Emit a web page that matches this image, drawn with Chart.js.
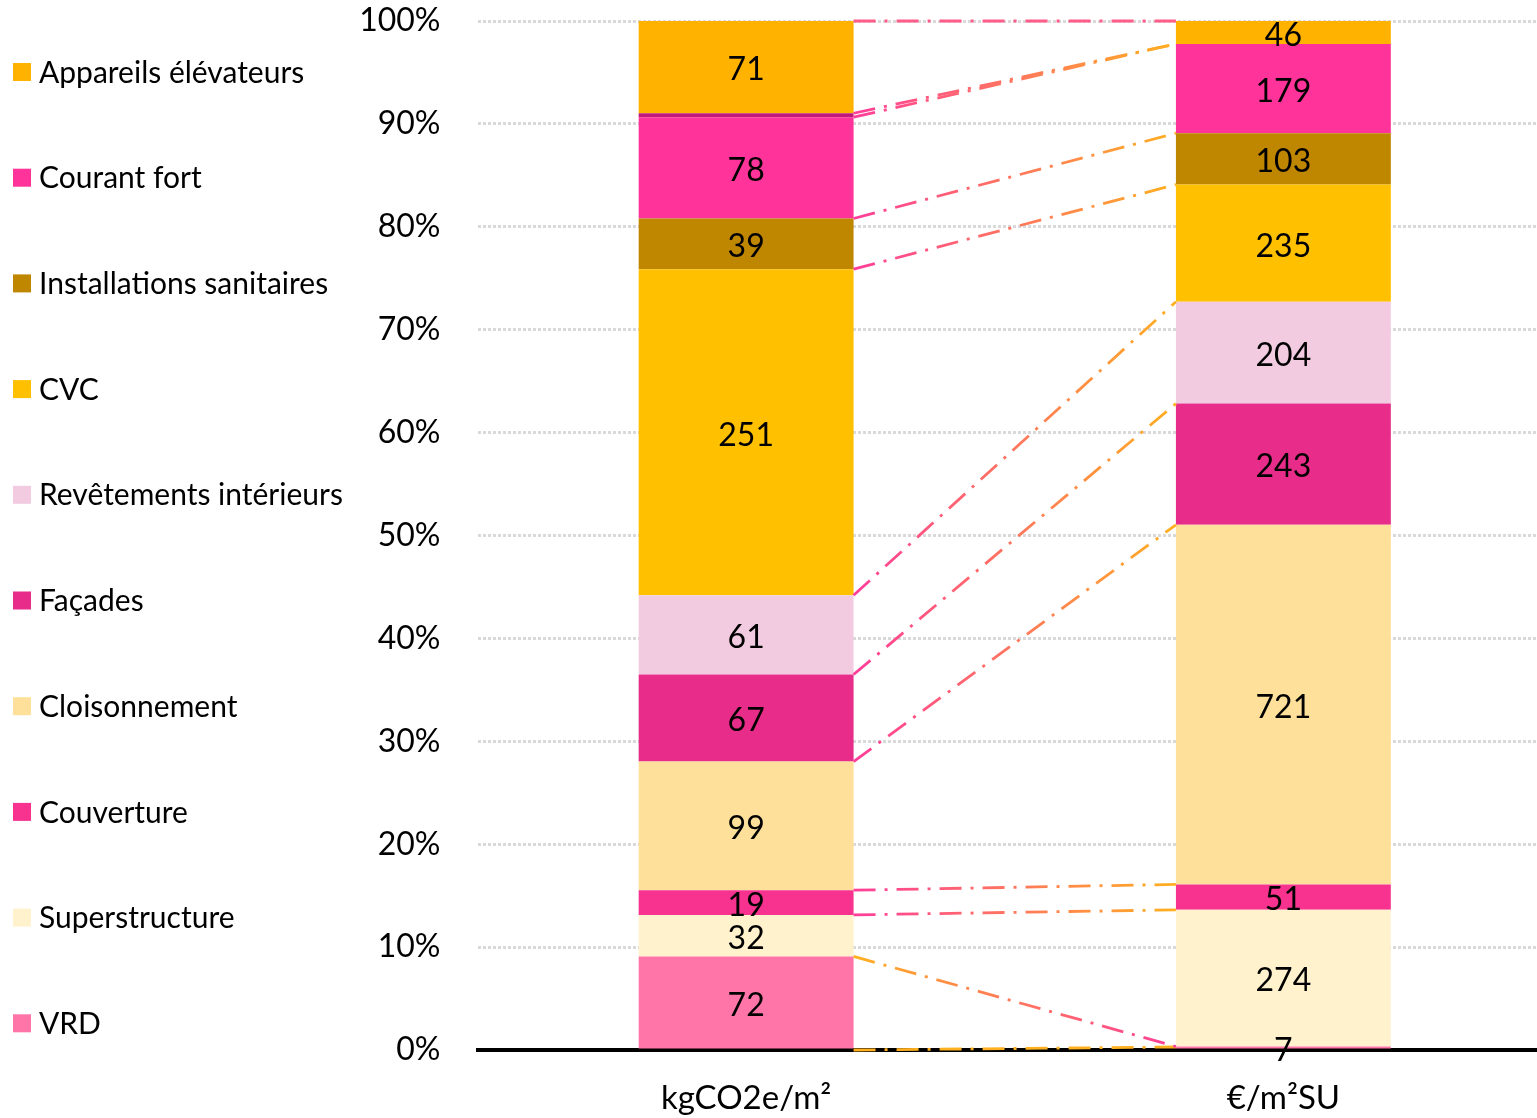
<!DOCTYPE html>
<html lang="fr">
<head>
<meta charset="utf-8">
<title>Répartition par lot</title>
<script src="https://cdn.jsdelivr.net/npm/chart.js@4.4.1/dist/chart.umd.min.js"></script>
<style>
  html, body { margin: 0; padding: 0; background: #fff; overflow: hidden; }
  #cadre { position: relative; width: 1552px; height: 1118px; }
</style>
</head>
<body>
<div id="cadre"><canvas id="graphique" width="1552" height="1118"></canvas></div>
<script>
// Catégories de l'axe X
const categories = ['kgCO2e/m²', '€/m²SU'];

// Lots, du bas vers le haut de la pile
const lots = ['VRD', 'Superstructure', 'Couverture', 'Cloisonnement', 'Façades',
  'Revêtements intérieurs', 'CVC', 'Installations sanitaires', 'Courant fort',
  'Non légendé', 'Appareils élévateurs'];

// Valeurs (même ordre que les lots)
const valeursCarbone = [72, 32, 19, 99, 67, 61, 251, 39, 78, 3, 71];
const valeursCout    = [7, 274, 51, 721, 243, 204, 235, 103, 179, 0, 46];

const couleurs = ['#FF75A8', '#FFF2CC', '#F7338F', '#FFE09A', '#E72D89',
  '#F2CBE1', '#FFC000', '#BF8600', '#FF3399', '#C0187A', '#FFB300'];

// Ce lot n'a ni étiquette ni entrée dans la légende
const lotsMasques = ['Non légendé'];

// Graduations de l'axe Y (en %)
const graduations = [0, 10, 20, 30, 40, 50, 60, 70, 80, 90, 100];

const police = 'Lato, "Open Sans", sans-serif';
const rose = '#FF3D9A';
const orange = '#FFB020';

// Passage en 100 % empilé
const totalCarbone = valeursCarbone.reduce((a, b) => a + b, 0);
const totalCout = valeursCout.reduce((a, b) => a + b, 0);

const jeux = lots.map((lot, i) => ({
  label: lot,
  data: [valeursCarbone[i] / totalCarbone * 100, valeursCout[i] / totalCout * 100],
  brut: [valeursCarbone[i], valeursCout[i]],
  backgroundColor: couleurs[i],
  borderWidth: 0,
  barPercentage: 0.4,
  categoryPercentage: 1
}));

// Lignes de séries (pointillés mixtes entre les deux barres)
const lignesSeries = {
  id: 'lignesSeries',
  afterDatasetsDraw(chart) {
    const ctx = chart.ctx;
    const y = chart.scales.y;
    const barreG = chart.getDatasetMeta(0).data[0];
    const barreD = chart.getDatasetMeta(0).data[1];
    const x1 = barreG.x + barreG.width / 2;
    const x2 = barreD.x - barreD.width / 2;
    let cumG = 0, cumD = 0;
    const niveaux = [[0, 0]];
    jeux.forEach(j => {
      cumG += j.data[0];
      cumD += j.data[1];
      niveaux.push([cumG, cumD]);
    });
    ctx.save();
    ctx.lineWidth = 2.8;
    ctx.setLineDash([22, 9, 3, 9]);
    niveaux.forEach(([g, d], k) => {
      let y1 = y.getPixelForValue(g);
      let y2 = y.getPixelForValue(d);
      let trait;
      if (Math.abs(y1 - y2) < 0.5) {
        trait = k === 0 ? orange : '#FF5C8A';
        if (k === 0) { y2 -= 3; } // ressort de l'axe côté droit
      } else {
        trait = ctx.createLinearGradient(x1, 0, x2, 0);
        if (y1 > y2) {
          trait.addColorStop(0, rose);
          trait.addColorStop(1, orange);
        } else {
          trait.addColorStop(0, orange);
          trait.addColorStop(1, rose);
        }
      }
      ctx.strokeStyle = trait;
      ctx.beginPath();
      ctx.moveTo(x1, y1);
      ctx.lineTo(x2, y2);
      ctx.stroke();
    });
    ctx.restore();
  }
};

// Valeurs au centre de chaque segment
const etiquettes = {
  id: 'etiquettes',
  afterDatasetsDraw(chart) {
    const ctx = chart.ctx;
    ctx.save();
    ctx.font = '32px ' + police;
    ctx.fillStyle = '#000';
    ctx.textAlign = 'center';
    ctx.textBaseline = 'middle';
    jeux.forEach((j, i) => {
      if (lotsMasques.includes(j.label)) return;
      chart.getDatasetMeta(i).data.forEach((barre, c) => {
        if (!j.brut[c]) return;
        ctx.fillText(String(j.brut[c]), barre.x, (barre.y + barre.base) / 2 + 3);
      });
    });
    ctx.restore();
  }
};

// Légende à gauche, de haut en bas : Appareils élévateurs ... VRD
const legende = {
  id: 'legende',
  afterDraw(chart) {
    const ctx = chart.ctx;
    const items = jeux.filter(j => !lotsMasques.includes(j.label)).reverse();
    ctx.save();
    ctx.font = '30px ' + police;
    ctx.textAlign = 'left';
    ctx.textBaseline = 'middle';
    items.forEach((j, k) => {
      const yc = 72 + k * 105.7;
      ctx.fillStyle = j.backgroundColor;
      ctx.fillRect(13, yc - 9, 18, 18);
      ctx.fillStyle = '#000';
      ctx.fillText(j.label, 39, yc + 1);
    });
    ctx.restore();
  }
};

function dessiner() {
  new Chart(document.getElementById('graphique'), {
    type: 'bar',
    data: { labels: categories, datasets: jeux },
    options: {
      responsive: false,
      animation: false,
      layout: { padding: { top: 21, left: 0, right: 0, bottom: 0 } },
      plugins: {
        legend: { display: false },
        tooltip: { enabled: false }
      },
      scales: {
        x: {
          stacked: true,
          z: 1,
          grid: { display: false, drawTicks: false },
          border: { display: true, color: '#000', width: 4 },
          ticks: { color: '#000', font: { family: police, size: 33 }, padding: 29 },
          afterFit: s => { s.height = 68; }
        },
        y: {
          stacked: true,
          min: 0,
          max: 100,
          afterBuildTicks: s => { s.ticks = graduations.map(v => ({ value: v })); },
          ticks: {
            color: '#000',
            font: { family: police, size: 32 },
            padding: 37,
            callback: v => v + '%'
          },
          grid: {
            drawTicks: false,
            lineWidth: 3,
            color: c => (c.tick && c.tick.value === 0) ? 'rgba(0,0,0,0)' : '#D9D9D9'
          },
          border: { display: false, dash: [3, 2] },
          afterFit: s => { s.width = 477.5; s.paddingTop = 0; s.paddingBottom = 0; }
        }
      }
    },
    plugins: [lignesSeries, etiquettes, legende]
  });
}

document.fonts.load('32px Lato').then(dessiner, dessiner);
</script>
</body>
</html>
